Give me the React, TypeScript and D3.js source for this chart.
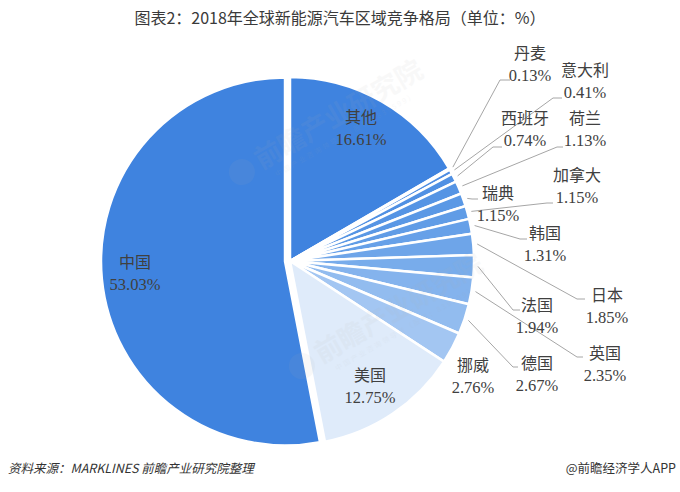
import React from 'react';
import * as d3 from 'd3';

const categories = ['其他', '丹麦', '意大利', '西班牙', '荷兰', '瑞典', '加拿大', '韩国', '日本', '法国', '英国', '德国', '挪威', '美国', '中国'];
const values = [16.61, 0.13, 0.41, 0.74, 1.13, 1.15, 1.15, 1.31, 1.85, 1.94, 2.35, 2.67, 2.76, 12.75, 53.03];
const valueLabels = ['16.61%', '0.13%', '0.41%', '0.74%', '1.13%', '1.15%', '1.15%', '1.31%', '1.85%', '1.94%', '2.35%', '2.67%', '2.76%', '12.75%', '53.03%'];

const colors = ['#3F83DF', '#4A8AE1', '#4D8CE2', '#5090E3', '#5594E4', '#5A98E5', '#609CE6', '#66A0E8', '#6EA5E9', '#78ACEB', '#84B3ED', '#92BCEF', '#A3C6F2', '#DFEBFA', '#3F83DF'];

// label layout: name centre [x, y]; leader elbow [x, y] and horizontal end x
const labelLayout: { x: number; y: number; elbow?: [number, number]; endX?: number }[] = [
  { x: 361, y: 117 },
  { x: 530, y: 53, elbow: [500, 80], endX: 510 },
  { x: 585, y: 70, elbow: [553, 98], endX: 562 },
  { x: 525, y: 118, elbow: [493, 147], endX: 502 },
  { x: 585, y: 118, elbow: [557, 147], endX: 563 },
  { x: 498, y: 193, elbow: [472, 199], endX: 478 },
  { x: 577, y: 175, elbow: [547, 203], endX: 553 },
  { x: 545, y: 233, elbow: [520, 239], endX: 527 },
  { x: 607, y: 295, elbow: [577, 299], endX: 585 },
  { x: 537, y: 305, elbow: [513, 310], endX: 520 },
  { x: 605, y: 353, elbow: [577, 357], endX: 583 },
  { x: 537, y: 363, elbow: [513, 367], endX: 518 },
  { x: 473, y: 365 },
  { x: 370, y: 375 },
  { x: 135, y: 262 },
];

const explode = [0, 0, 0, 0, 0, 0, 0, 0, 0, 0, 0, 0, 0, 0, 5];

// faint background watermarks (start point of text)
const watermarks: [number, number][] = [
  [258, 172],
  [318, 366],
];

const W = 680;
const H = 492;
const cx = 290;
const cy = 261;
const R = 184;

const CJK = '"Noto Sans CJK SC", "Noto Sans", sans-serif';
const SERIF = '"Liberation Serif", "Times New Roman", serif';

export default function App() {
  const pie = d3
    .pie<number>()
    .sort(null)
    .value((d) => d)
    .startAngle(0)
    .endAngle(2 * Math.PI);
  const arcs = pie(values);
  const arc = d3.arc<d3.PieArcDatum<number>>().innerRadius(0).outerRadius(R);

  return (
    <svg width={W} height={H} style={{ position: 'absolute', left: 0, top: 0, background: '#fff' }}>
      <text x={340} y={18} textAnchor="middle" dy="0.35em" fontFamily={CJK} fontSize={16} fill="#3a3a3a">
        图表2：2018年全球新能源汽车区域竞争格局（单位：%）
      </text>

      <g transform={`translate(${cx},${cy})`}>
        {arcs.map((a, i) => {
          const mid = (a.startAngle + a.endAngle) / 2;
          const ox = explode[i] * Math.sin(mid);
          const oy = -explode[i] * Math.cos(mid);
          return (
            <path
              key={categories[i]}
              d={arc(a) || ''}
              transform={`translate(${ox},${oy})`}
              fill={colors[i]}
              stroke="#fff"
              strokeWidth={2.5}
              strokeLinejoin="miter"
            />
          );
        })}
      </g>

      {watermarks.map(([x, y], i) => (
        <g key={'w' + i} transform={`translate(${x},${y}) rotate(-30)`} opacity={0.08} fill="#b0b0b0">
          <circle cx={-14} cy={-8} r={13} />
          <text x={4} y={0} fontFamily={CJK} fontSize={27} fontWeight={700}>
            前瞻产业研究院
          </text>
          <text x={14} y={14} fontFamily={CJK} fontSize={7} letterSpacing={2}>
            中国产业咨询领导者（股票：839599）
          </text>
        </g>
      ))}

      {arcs.map((a, i) => {
        const L = labelLayout[i];
        if (!L.elbow) return null;
        const mid = (a.startAngle + a.endAngle) / 2;
        const r0 = R + 4;
        const sx = cx + r0 * Math.sin(mid);
        const sy = cy - r0 * Math.cos(mid);
        const pts: [number, number][] = [[sx, sy], L.elbow, [L.endX as number, L.elbow[1]]];
        return <path key={'l' + i} d={d3.line()(pts) || ''} fill="none" stroke="#A6A6A6" strokeWidth={1} />;
      })}

      {arcs.map((a, i) => {
        const L = labelLayout[i];
        return (
          <g key={'t' + i}>
            <text x={L.x} y={L.y} textAnchor="middle" dy="0.35em" fontFamily={CJK} fontSize={16} fill="#404040">
              {categories[i]}
            </text>
            <text x={L.x} y={L.y + 22} textAnchor="middle" dy="0.35em" fontFamily={SERIF} fontSize={16.5} fill="#404040">
              {valueLabels[i]}
            </text>
          </g>
        );
      })}

      <text x={8} y={469} dy="0.35em" fontFamily={CJK} fontSize={12.5} fontStyle="italic" fill="#333">
        资料来源：MARKLINES 前瞻产业研究院整理
      </text>
      <text x={676} y={469} dy="0.35em" textAnchor="end" fontFamily={CJK} fontSize={12.5} fill="#333">
        @前瞻经济学人APP
      </text>
    </svg>
  );
}
